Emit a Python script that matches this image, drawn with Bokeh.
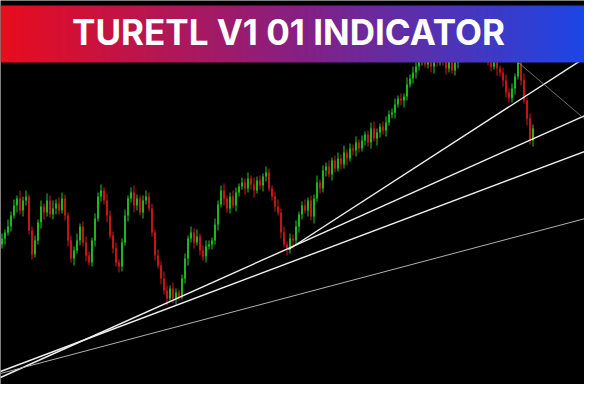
import numpy as np
from bokeh.plotting import figure
from bokeh.models import Range1d, ColumnDataSource
from bokeh.embed import file_html
from bokeh.resources import INLINE
from bokeh.core.properties import value

# ---------------- data ----------------
title = "TURETL V1 01 INDICATOR"

first_open = 156
closes = [
    162, 168, 174, 185, 195, 202, 190, 200, 204, 170,
    146, 160, 178, 194, 188, 200, 186, 192, 197, 190,
    202, 185, 160, 142, 150, 160, 174, 158, 145, 138,
    160, 182, 204, 210, 200, 185, 165, 152, 138, 134,
    158, 185, 202, 208, 195, 202, 188, 200, 204, 192,
    168, 145, 135, 122, 110, 102, 112, 102, 108, 104,
    122, 142, 162, 168, 158, 164, 150, 144, 154, 156,
    160, 176, 196, 210, 202, 192, 204, 195, 208, 214,
    218, 212, 222, 216, 210, 220, 215, 224, 228, 212,
    204, 194, 188, 168, 156, 152, 162, 160, 174, 186,
    195, 190, 200, 184, 202, 218, 212, 230, 234, 226,
    240, 232, 242, 236, 248, 242, 252, 250, 258, 252,
    260, 266, 258, 272, 262, 268, 274, 270, 278, 286,
    288, 296, 302, 300, 304, 316, 322, 328, 334, 340,
    342, 336, 345, 334, 342, 338, 348, 340, 332, 344,
    330, 338, 342, 348, 354, 360, 356, 362, 358, 364,
    356, 350, 338, 334, 340, 332, 328, 320, 308, 302,
    312, 324, 338, 320, 300, 282, 260, 272,
]
wick_hi = [int(c) for c in (
    "5374638462 4536375846 6435473564 3546375463 4635743564 "
    "5364753643 4536473564 3645734653 5463745364 3574635463 "
    "4635473546 3564735463 5346743564 4635374654 3546473563 "
    "5364735463 4635743564 53647354").replace(" ", "")]
wick_lo = [int(c) for c in (
    "4635374654 5346743564 3564735463 4635473546 5364753643 "
    "4536473564 3574635463 5463745364 3645734653 4536375846 "
    "5364735463 6435473564 3546375463 4635743564 5346743564 "
    "3564735463 4635374654 46353746").replace(" ", "")]

# trendlines: (bar index, price) end points
trend_x0 = [-0.5, -0.5, 95.5, -0.5, 167.8]
trend_y0 = [29.0, 23.0, 151.0, 27.0, 349.0]
trend_x1 = [199.5, 199.5, 206.0, 199.5, 199.5]
trend_y1 = [255.0, 292.0, 365.5, 186.0, 268.0]

# ---------------- styles ----------------
UP = "#22c822"
DOWN = "#d61818"
trend_colors = ["#f0f0f0", "#f0f0f0", "#f0f0f0", "#b0b0b0", "#8a8a8a"]
trend_widths = [1.4, 1.4, 1.4, 1.0, 0.8]

n = len(closes)
idx = np.arange(n)
opens = np.array([first_open] + closes[:-1], dtype=float)
cl = np.array(closes, dtype=float)
top = np.maximum(opens, cl)
bot = np.minimum(opens, cl)
high = top + np.array(wick_hi[:n])
low = bot - np.array(wick_lo[:n])
colors = [UP if c >= o else DOWN for o, c in zip(opens, cl)]

src = ColumnDataSource(dict(x=idx, top=top, bottom=bot, high=high, low=low, color=colors))

p = figure(width=584, height=384,
           x_range=Range1d((0 - 1.5) / 3, (584 - 1.5) / 3),
           y_range=Range1d(16, 400),
           output_backend="svg", toolbar_location=None,
           background_fill_color="black", border_fill_color="black",
           min_border=0, outline_line_color=None)
p.axis.visible = False
p.grid.visible = False

p.segment(x0="x", y0="low", x1="x", y1="high", line_color="color", line_width=1, source=src)
p.vbar(x="x", width=0.55, top="top", bottom="bottom", fill_color="color", line_color=None, source=src)

for x0, y0, x1, y1, c, w in zip(trend_x0, trend_y0, trend_x1, trend_y1, trend_colors, trend_widths):
    p.line([x0, x1], [y0, y1], line_color=c, line_width=w)

# gradient banner
N = 600
t = np.linspace(0, 1, N)
stops = [0.0, 0.5, 1.0]
r = np.interp(t, stops, [234, 134, 22])
g = np.interp(t, stops, [12, 32, 72])
b = np.interp(t, stops, [30, 132, 236])
img = np.empty((1, N), dtype=np.uint32)
view = img.view(dtype=np.uint8).reshape((1, N, 4))
view[0, :, 0] = r.astype(np.uint8)
view[0, :, 1] = g.astype(np.uint8)
view[0, :, 2] = b.astype(np.uint8)
view[0, :, 3] = 255
p.image_rgba(image=[img], x=-0.5, y=338, dw=200, dh=57)

p.text(x=[95.5], y=[369], text=[title], text_color="white",
       text_font=value("Inter"), text_font_size="35px", text_font_style="bold",
       text_align="center", text_baseline="middle")

open("out.html", "w").write(file_html(p, INLINE))
